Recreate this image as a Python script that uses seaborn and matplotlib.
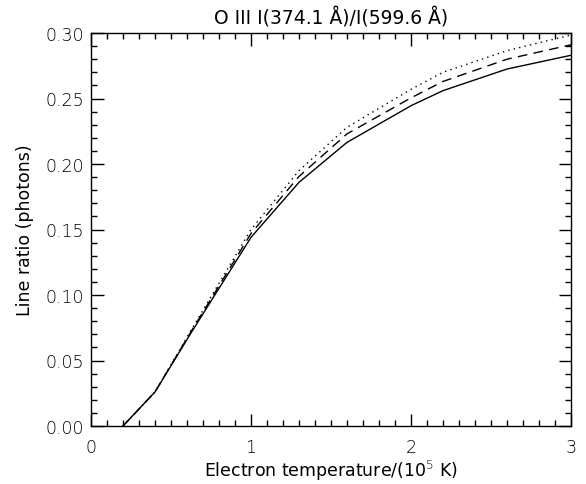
import matplotlib
matplotlib.use("Agg")
import matplotlib.pyplot as plt
import seaborn as sns
import pandas as pd
from matplotlib.ticker import MultipleLocator

# Data
temperature = [0.2, 0.4, 0.63, 1.0, 1.3, 1.6, 2.0, 2.2, 2.6, 3.0]
ratio_solid = [0.0, 0.026, 0.072, 0.144, 0.186, 0.2165, 0.2445, 0.256, 0.2725, 0.283]
ratio_dashed = [0.0, 0.026, 0.073, 0.147, 0.1905, 0.223, 0.2505, 0.263, 0.280, 0.291]
ratio_dotted = [0.0, 0.026, 0.074, 0.150, 0.195, 0.228, 0.257, 0.270, 0.2865, 0.2985]
series_names = ["solid", "dashed", "dotted"]

x_ticks = [0, 1, 2, 3]
x_ticklabels = ["0", "1", "2", "3"]
y_ticks = [0.00, 0.05, 0.10, 0.15, 0.20, 0.25, 0.30]
y_ticklabels = ["0.00", "0.05", "0.10", "0.15", "0.20", "0.25", "0.30"]

df = pd.concat([
    pd.DataFrame({"T": temperature, "ratio": ratio_solid, "series": series_names[0]}),
    pd.DataFrame({"T": temperature, "ratio": ratio_dashed, "series": series_names[1]}),
    pd.DataFrame({"T": temperature, "ratio": ratio_dotted, "series": series_names[2]}),
], ignore_index=True)

sns.set_theme(style="ticks")
plt.rcParams["font.family"] = ["DejaVu Sans"]
plt.rcParams["font.weight"] = "light"
plt.rcParams["text.color"] = "black"
plt.rcParams["axes.labelcolor"] = "black"

fig = plt.figure(figsize=(5.86, 4.85), dpi=100)
ax = fig.add_axes([91/586, 1-427/485, (571-91)/586, (427-34)/485])

sns.lineplot(data=df, x="T", y="ratio", style="series",
             dashes={"solid": "", "dashed": (7, 4.5), "dotted": (1, 3)},
             color="black", linewidth=1.0, ax=ax, legend=False, estimator=None, sort=False)

ax.set_xlim(0, 3)
ax.set_ylim(0, 0.30)
ax.set_xticks(x_ticks)
ax.set_xticklabels(x_ticklabels)
ax.set_yticks(y_ticks)
ax.set_yticklabels(y_ticklabels)
ax.xaxis.set_minor_locator(MultipleLocator(0.1))
ax.yaxis.set_minor_locator(MultipleLocator(0.01))
ax.tick_params(which="both", direction="in", top=True, right=True, colors="black",
               labelcolor="black", width=1.0, labelsize=12.5)
ax.tick_params(axis="x", which="major", length=9, pad=9)
ax.tick_params(axis="x", which="minor", length=4.5)
ax.tick_params(axis="y", which="major", length=9, pad=5)
ax.tick_params(axis="y", which="minor", length=4.5)
for s in ax.spines.values():
    s.set_visible(True)
    s.set_color("black")
    s.set_linewidth(1.0)

ax.set_xlabel("Electron temperature/(10$^5$ K)", fontsize=12.5, labelpad=1, color="black")
ax.set_ylabel("Line ratio (photons)", fontsize=12.5, labelpad=8, color="black")
ax.set_title("O III I(374.1 Å)/I(599.6 Å)", fontsize=13.5, pad=7, color="black")

fig.savefig("out.png", dpi=100, facecolor="white")
